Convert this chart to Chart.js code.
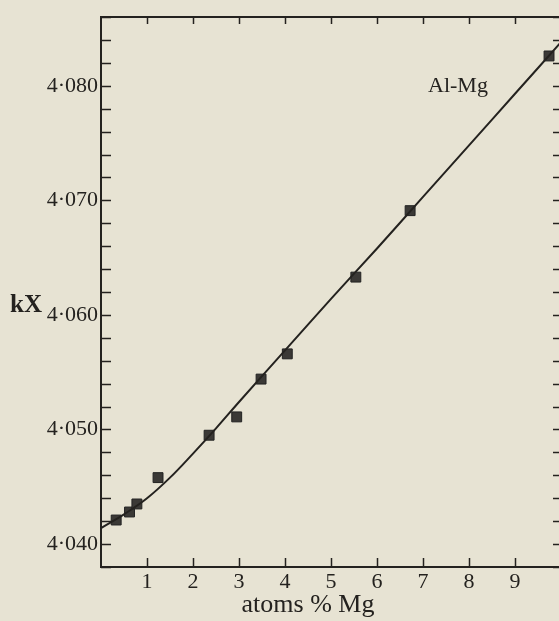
<!DOCTYPE html>
<html>
<head>
<meta charset="utf-8">
<title>Al-Mg lattice parameter</title>
<script src="https://cdn.jsdelivr.net/npm/chart.js@4.4.1/dist/chart.umd.min.js"></script>
<style>
  html, body { margin: 0; padding: 0; background: #e7e3d3; overflow: hidden; }
  #wrap { width: 576px; height: 621px; }
</style>
</head>
<body>
<div id="wrap"><canvas id="chart" width="576" height="621"></canvas></div>
<script>
// measured points (atoms % Mg, kX)
const obsX = [0.33, 0.62, 0.78, 1.24, 2.35, 2.95, 3.48, 4.05, 5.54, 6.72, 9.74];
const obsY = [4.0421, 4.0428, 4.0435, 4.0458, 4.0495, 4.0511, 4.0544, 4.0566, 4.0633, 4.0691, 4.0826];

// drawn curve through the points
const curveX = [0, 0.5, 1, 1.5, 2, 2.5, 3, 4, 5, 6, 7, 8, 9, 10];
const curveY = [4.0414, 4.0426, 4.0440, 4.0458, 4.0479, 4.0501, 4.0524, 4.0569, 4.0614, 4.0658, 4.0703, 4.0748, 4.0793, 4.0838];

// axis labels
const xTickLabels = ['1', '2', '3', '4', '5', '6', '7', '8', '9'];
const yTickValues = [4.04, 4.05, 4.06, 4.07, 4.08];
const yTickLabels = ['4·040', '4·050', '4·060', '4·070', '4·080'];

const ink = '#24221f';
const serif = 'Liberation Serif, DejaVu Serif, serif';

// frame with inward ticks, plus free text
const framePlugin = {
    id: 'framePlugin',
    afterDraw(chart) {
        const ctx = chart.ctx;
        const a = chart.chartArea;
        const xs = chart.scales.x;
        const ys = chart.scales.y;
        ctx.save();
        ctx.strokeStyle = ink;
        ctx.lineWidth = 2;
        ctx.strokeRect(a.left, a.top, a.right - a.left, a.bottom - a.top);

        ctx.lineWidth = 1.5;
        ctx.beginPath();
        ys.ticks.forEach(t => {
            const py = Math.round(ys.getPixelForValue(t.value)) + 0.5;
            ctx.moveTo(a.left, py); ctx.lineTo(a.left + 10, py);
            ctx.moveTo(a.right, py); ctx.lineTo(a.right - 8, py);
        });
        xTickLabels.forEach(l => {
            const px = Math.round(xs.getPixelForValue(Number(l))) + 0.5;
            ctx.moveTo(px, a.bottom); ctx.lineTo(px, a.bottom - 9);
            ctx.moveTo(px, a.top); ctx.lineTo(px, a.top + 7);
        });
        ctx.stroke();

        ctx.fillStyle = ink;
        ctx.textBaseline = 'alphabetic';
        ctx.font = 'bold 25px ' + serif;
        ctx.textAlign = 'left';
        ctx.fillText('kX', 10, 312);
        ctx.font = '22px ' + serif;
        ctx.fillText('Al-Mg', 428, 92);
        ctx.font = '26px ' + serif;
        ctx.textAlign = 'center';
        ctx.fillText('atoms % Mg', 308, 612);
        ctx.restore();
    }
};

const ctx = document.getElementById('chart').getContext('2d');
const chart = new Chart(ctx, {
    type: 'scatter',
    data: {
        datasets: [{
            type: 'line',
            data: curveX.map((x, i) => ({ x: x, y: curveY[i] })),
            borderColor: ink,
            borderWidth: 2,
            pointRadius: 0,
            tension: 0.4,
            fill: false
        }, {
            data: obsX.map((x, i) => ({ x: x, y: obsY[i] })),
            pointStyle: 'rect',
            pointRadius: 7,
            backgroundColor: '#3b3936',
            borderColor: '#222',
            borderWidth: 1
        }]
    },
    options: {
        responsive: false,
        animation: false,
        clip: false,
        layout: { padding: { top: 17, right: 15, left: 0, bottom: 0 } },
        plugins: { legend: { display: false }, tooltip: { enabled: false } },
        scales: {
            x: {
                type: 'linear',
                min: 0,
                max: 10,
                grid: { display: false, drawTicks: false },
                border: { display: false },
                ticks: {
                    stepSize: 1,
                    autoSkip: false,
                    maxRotation: 0,
                    padding: 2,
                    color: ink,
                    font: { family: serif, size: 22 },
                    callback: v => xTickLabels.includes(String(v)) ? String(v) : ''
                },
                afterFit: s => { s.height = 54; }
            },
            y: {
                type: 'linear',
                min: 4.038,
                max: 4.086,
                grid: { display: false, drawTicks: false },
                border: { display: false },
                ticks: {
                    stepSize: 0.002,
                    autoSkip: false,
                    padding: 3,
                    color: ink,
                    font: { family: serif, size: 22 },
                    callback: v => {
                        const i = yTickValues.findIndex(t => Math.abs(t - v) < 1e-6);
                        return i >= 0 ? yTickLabels[i] : '';
                    }
                },
                afterFit: s => { s.width = 101; }
            }
        }
    },
    plugins: [framePlugin]
});
</script>
</body>
</html>
